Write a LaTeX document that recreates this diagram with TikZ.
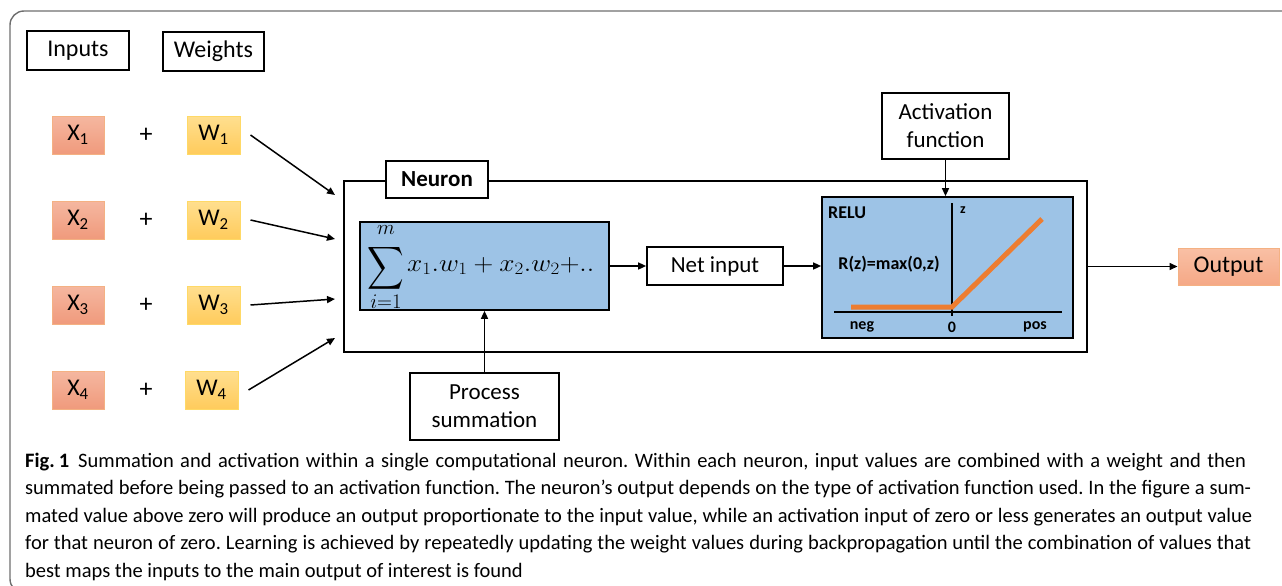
\documentclass[tikz,border=0pt]{standalone}
\usepackage{amsmath}
\usepackage{graphicx}
\usepackage{fontspec}
\setmainfont{Carlito}
\usetikzlibrary{arrows.meta}

\definecolor{sumblue}{HTML}{9DC3E6}
\definecolor{inbot}{HTML}{F09A7C}
\definecolor{intop}{HTML}{F5B7A0}
\definecolor{inline}{HTML}{F4B183}
\definecolor{outtop}{HTML}{F9C0A5}
\definecolor{outbot}{HTML}{F5A886}
\definecolor{wbot}{HTML}{FFCB5C}
\definecolor{wtop}{HTML}{FFDF8F}
\definecolor{wline}{HTML}{FFD966}
\definecolor{reluorange}{HTML}{ED7D31}
\definecolor{framegray}{HTML}{6E6E6E}

\newcommand{\fsz}[1]{\fontsize{#1}{#1}\selectfont}

\begin{document}
\begin{tikzpicture}[x=1pt,y=-1pt,
  lbl/.style={draw, line width=1.7pt, fill=white, inner sep=0pt, align=center,
              font=\fsz{24}},
  twoline/.style={font=\fontsize{23}{28}\selectfont},
  inbox/.style={draw=inline, line width=1pt, top color=intop, bottom color=inbot,
                inner sep=0pt, minimum width=52pt, minimum height=38pt, font=\fsz{24}},
  wbox/.style={draw=wline, line width=1pt, top color=wtop, bottom color=wbot,
               inner sep=0pt, minimum width=53pt, minimum height=38pt, font=\fsz{24}},
  plus/.style={inner sep=0pt, font=\fsz{26}},
  bluebox/.style={draw, line width=1.7pt, fill=sumblue, inner sep=0pt},
  conn/.style={line width=1.5pt, -{Triangle[length=8pt,width=7pt]}},
  axis/.style={line width=2.6pt},
  small/.style={inner sep=0pt, font=\bfseries\fsz{16}},
  mathlbl/.style={inner sep=0pt, font=\fsz{26}},
  limit/.style={inner sep=0pt, font=\fsz{29}},
  capline/.style={anchor=base west, inner sep=0pt, font=\fsz{20.5}}
]
\useasboundingbox (0,0) rectangle (1282,586);
\clip (0,0) rectangle (1282,586);

% panel frame
\draw[framegray, line width=1.4pt, rounded corners=14pt] (10,11) rectangle (1300,593);

% column headers
\node[lbl, minimum width=102pt, minimum height=39pt] (inputs) at (78,50.5) {Inputs};
\node[lbl, minimum width=101pt, minimum height=39pt] (weights) at (213.5,51.5) {Weights};

% inputs and weights
\foreach \i/\y in {1/135, 2/220, 3/305, 4/390} {
  \node[inbox] (x\i) at (78,\y) {X\textsubscript{\i}};
  \node[plus] (p\i) at (146,\y) {+};
}
\node[wbox] (w1) at (213.5,135) {W\textsubscript{1}};
\node[wbox] (w2) at (213.5,220) {W\textsubscript{2}};
\node[wbox] (w3) at (213.5,305) {W\textsubscript{3}};
\node[wbox] (w4) at (211.5,390) {W\textsubscript{4}};

% neuron
\node[draw, line width=1.7pt, inner sep=0pt, minimum width=743pt, minimum height=171pt]
  (neuron) at (715.5,266.5) {};
\node[lbl, minimum width=102pt, minimum height=37pt, font=\bfseries\fsz{23}]
  (nlabel) at (437,179.5) {Neuron};

% entry points on the neuron
\coordinate (in1) at (335,195);
\coordinate (in2) at (335,239);
\coordinate (in3) at (335,299);
\coordinate (in4) at (335,338);
\foreach \i in {1,...,4}
  \draw[conn] ([xshift=10pt]w\i.east) -- (in\i);

% summation
\node[bluebox, minimum width=249pt, minimum height=88pt] (sum) at (484.5,266) {};
\node[mathlbl] (sigma) at (386,268) {\scalebox{1.02}[1.2]{$\displaystyle\sum$}};
\node[limit] (supm) at (386,230) {$\scriptstyle m$};
\node[limit] (subi) at (386,302) {$\scriptstyle i=1$};
\node[mathlbl, anchor=west] (sumtext) at (407,266)
  {\scalebox{1.1}[1]{$x_1.w_1+x_2.w_2{+}..$}};

% net input
\node[lbl, minimum width=136pt, minimum height=38pt, font=\fsz{23}] (net) at (715,266) {Net input};

% RELU panel
\node[bluebox, minimum width=251pt, minimum height=141pt] (relu) at (947.5,267.5) {};
\node[small, anchor=west, font=\bfseries\fsz{18}] (relut) at (828,213) {RELU};
\coordinate (ax0) at (952,312);
\coordinate (axtop) at (952,203);
\coordinate (axl) at (834,312);
\coordinate (axr) at (1062,312);
\draw[axis] (ax0 |- axtop) -- (952,316);
\draw[axis] (axl) -- (axr);
\draw[reluorange, line width=5pt] (851,307) -- (952,307) -- (1042,219);
\node[small, font=\bfseries\fsz{14}] (zlab) at (963,210) {z};
\node[small, font=\bfseries\fsz{18}] (rfun) at (889,264) {R(z)=max(0,z)};
\node[small] (neg) at (862,327) {neg};
\node[small] (zero) at (952,327) {0};
\node[small] (pos) at (1035,327) {pos};

% activation function label
\node[lbl, twoline, minimum width=127pt, minimum height=66pt]
  (act) at (945.5,126) {Activation\\function};

% output
\node[draw=inline, line width=1pt, top color=outtop, bottom color=outbot,
      inner sep=0pt, minimum width=101pt, minimum height=37pt, font=\fsz{24}]
  (out) at (1228.5,266.5) {Output};

% process summation
\node[lbl, twoline, minimum width=149pt, minimum height=67pt]
  (proc) at (484.5,406.5) {Process\\summation};

% connectors
\draw[conn] (sum.east) -- (sum.east -| net.west);
\draw[conn] (net.east) -- (net.east -| relu.west);
\draw[conn] (act.south) -- (act.south |- relu.north);
\draw[conn] (neuron.east |- out.west) -- (out.west);
\draw[conn] (proc.north) -- (proc.north |- sum.south);

% caption
\frenchspacing
\node[capline] (cap1) at (25,467) {\makebox[1221pt][s]{\textbf{Fig.\kern4pt 1}\hspace{9pt}Summation and activation within a single computational neuron. Within each neuron, input values are combined with a weight and then}};
\node[capline] (cap2) at (25,494.5) {\makebox[1226pt][s]{summated before being passed to an activation function. The neuron’s output depends on the type of activation function used. In the figure a sum-}};
\node[capline] (cap3) at (25,522) {\makebox[1227pt][s]{mated value above zero will produce an output proportionate to the input value, while an activation input of zero or less generates an output value}};
\node[capline] (cap4) at (25,549.5) {\makebox[1226pt][s]{for that neuron of zero. Learning is achieved by repeatedly updating the weight values during backpropagation until the combination of values that}};
\node[capline] (cap5) at (25,577) {best maps the inputs to the main output of interest is found};
\end{tikzpicture}
\end{document}
